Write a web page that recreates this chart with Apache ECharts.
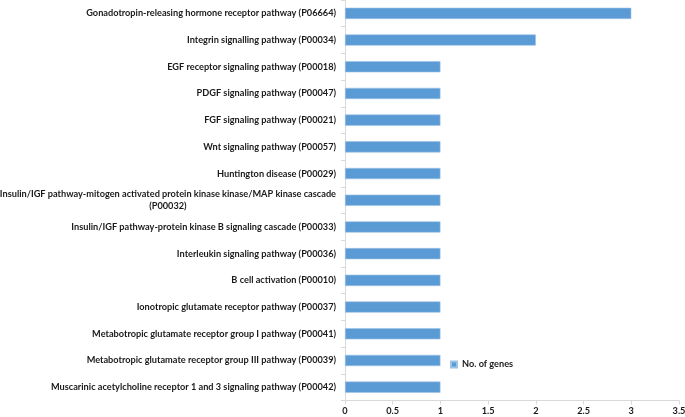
<!DOCTYPE html>
<html><head><meta charset="utf-8">
<script src="https://cdn.jsdelivr.net/npm/echarts@6/dist/echarts.min.js"></script>
<style>html,body{margin:0;padding:0;background:#fff}#c{width:685px;height:417px}</style>
</head><body><div id="c"></div>
<script>
const categories = [
  "Gonadotropin-releasing hormone receptor pathway (P06664)",
  "Integrin signalling pathway (P00034)",
  "EGF receptor signaling pathway (P00018)",
  "PDGF signaling pathway (P00047)",
  "FGF signaling pathway (P00021)",
  "Wnt signaling pathway (P00057)",
  "Huntington disease (P00029)",
  "Insulin/IGF pathway-mitogen activated protein kinase kinase/MAP kinase cascade\n(P00032)",
  "Insulin/IGF pathway-protein kinase B signaling cascade (P00033)",
  "Interleukin signaling pathway (P00036)",
  "B cell activation (P00010)",
  "Ionotropic glutamate receptor pathway (P00037)",
  "Metabotropic glutamate receptor group I pathway (P00041)",
  "Metabotropic glutamate receptor group III pathway (P00039)",
  "Muscarinic acetylcholine receptor 1 and 3 signaling pathway (P00042)"
];
const genes = [3, 2, 1, 1, 1, 1, 1, 1, 1, 1, 1, 1, 1, 1, 1];
const xTicks = { min: 0, max: 3.5, interval: 0.5 };
const seriesName = "No. of genes";

const font = "Lato";
const fs = 9.2;
const txt = '#1a1a1a';
const chart = echarts.init(document.getElementById('c'), null, {renderer: 'canvas'});
chart.setOption({
  animation: false,
  grid: { left: 345, right: 6, top: 0, bottom: 16.5, containLabel: false, outerBoundsMode: 'none' },
  legend: {
    data: [seriesName], left: 445, top: 355, itemWidth: 6, itemHeight: 6, itemGap: 2,
    icon: 'rect',
    textStyle: { fontFamily: font, fontWeight: 'bold', fontSize: fs, color: txt, padding: [0, 0, 0, 0] }
  },
  xAxis: {
    type: 'value', min: xTicks.min, max: xTicks.max, interval: xTicks.interval,
    axisLine: { show: true, lineStyle: { color: '#d9d9d9', width: 1 } },
    axisTick: { show: true, length: 4, lineStyle: { color: '#d9d9d9' } },
    splitLine: { show: false },
    axisLabel: { fontFamily: font, fontWeight: 'bold', fontSize: fs, color: txt, margin: 6,
      formatter: v => String(v) }
  },
  yAxis: {
    type: 'category', data: categories, inverse: true,
    axisLine: { show: true, lineStyle: { color: '#d9d9d9', width: 1 } },
    axisTick: { show: true, length: 4, lineStyle: { color: '#d9d9d9' } },
    axisLabel: {
      margin: 9, fontFamily: font, fontWeight: 'bold', fontSize: fs, color: txt,
      lineHeight: 12,
      formatter: function (v) {
        if (v.indexOf('\n') >= 0) {
          const p = v.split('\n');
          return '{a|' + p[0] + '}\n{c|' + p[1] + '}';
        }
        return v;
      },
      rich: {
        a: { fontFamily: font, fontWeight: 'bold', fontSize: fs, color: txt, lineHeight: 12 },
        c: { fontFamily: font, fontWeight: 'bold', fontSize: fs, color: txt, lineHeight: 12, align: 'center' }
      }
    }
  },
  series: [{
    name: seriesName, type: 'bar', data: genes,
    barCategoryGap: '58%',
    itemStyle: { color: '#5b9bd5', borderColor: '#9dc3e6', borderWidth: 0.6 }
  }]
});
</script></body></html>
